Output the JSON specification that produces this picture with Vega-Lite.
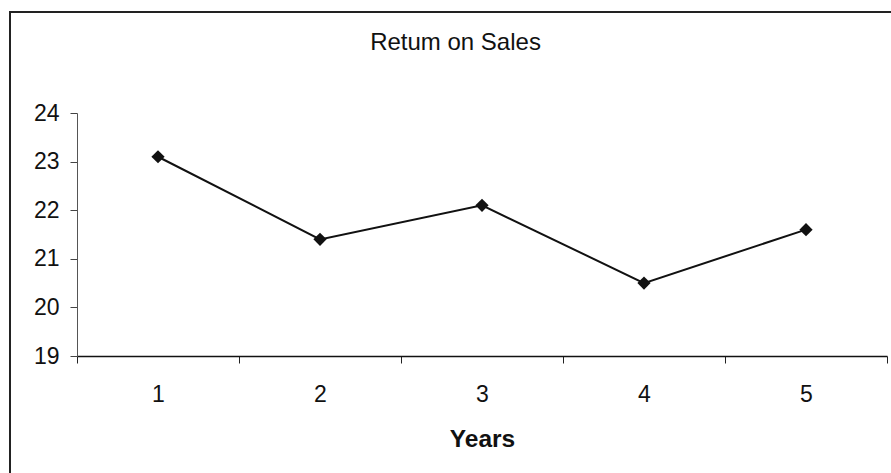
{
  "$schema": "https://vega.github.io/schema/vega-lite/v6.json",
  "width": 901,
  "height": 481,
  "autosize": {"type": "none"},
  "padding": {"left": 10, "top": 12, "right": -20, "bottom": -20},
  "background": "white",
  "config": {
    "view": {"stroke": "#222", "strokeWidth": 2},
    "font": "Liberation Sans",
    "axis": {"grid": false, "labelColor": "#111", "titleColor": "#111", "labelFont": "Liberation Sans", "titleFont": "Liberation Sans"}
  },
  "title": {
    "text": "Retum on Sales",
    "font": "Liberation Sans",
    "fontSize": 24,
    "fontWeight": "normal",
    "color": "#111",
    "frame": "group",
    "anchor": "middle",
    "baseline": "bottom",
    "offset": -67,
    "dx": -5
  },
  "data": {
    "values": [
      {"year": "1", "ros": 23.1},
      {"year": "2", "ros": 21.4},
      {"year": "3", "ros": 22.1},
      {"year": "4", "ros": 20.5},
      {"year": "5", "ros": 21.6}
    ]
  },
  "encoding": {
    "x": {
      "field": "year",
      "type": "ordinal",
      "scale": {"type": "band", "paddingInner": 0, "paddingOuter": 0, "range": [67, 877]},
      "axis": {
        "offset": -137,
        "title": "Years",
        "titleFontSize": 24.5,
        "titleFontWeight": "bold",
        "titlePadding": 21,
        "labelAngle": 0,
        "labelFontSize": 23,
        "labelPadding": 20,
        "tickBand": "extent",
        "tickSize": 7,
        "tickColor": "#222",
        "domainColor": "#111",
        "domainWidth": 1.6
      }
    },
    "y": {
      "field": "ros",
      "type": "quantitative",
      "scale": {"domain": [19, 24], "nice": false, "zero": false, "range": [344, 101]},
      "axis": {
        "offset": -67,
        "title": null,
        "values": [19, 20, 21, 22, 23, 24],
        "labelFontSize": 23,
        "labelPadding": 11,
        "tickSize": 7,
        "tickColor": "#444",
        "domainColor": "#555",
        "domainWidth": 1
      }
    }
  },
  "layer": [
    {"mark": {"type": "line", "color": "#111", "strokeWidth": 2}},
    {"mark": {"type": "point", "shape": "diamond", "filled": true, "size": 175, "color": "#111", "opacity": 1}}
  ]
}
